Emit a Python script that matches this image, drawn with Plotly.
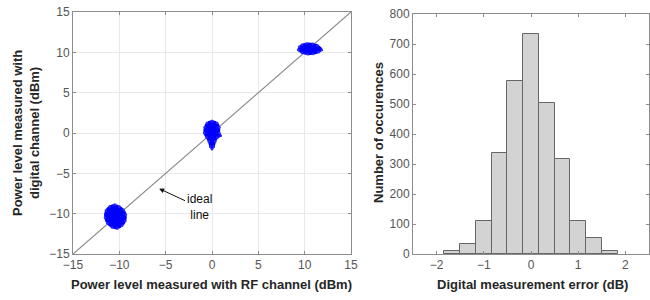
import plotly.graph_objects as go

# ---- data ----
ideal_x = [-15, 15]
ideal_y = [-15, 15]

# outlines of the three measured clusters (dBm)
clusterA_x = [-10.5, -10.0, -9.55, -9.3, -9.35, -9.7, -10.2, -10.8, -11.3, -11.55, -11.45, -11.05, -10.5]
clusterA_y = [-8.9, -9.1, -9.5, -10.1, -10.9, -11.5, -11.85, -11.7, -11.2, -10.5, -9.6, -9.1, -8.9]
clusterB_x = [0.0, 0.55, 0.8, 0.8, 0.95, 0.6, 0.35, 0.2, 0.0, -0.2, -0.35, -0.6, -0.85, -0.8, -0.55, 0.0]
clusterB_y = [1.5, 1.25, 0.7, 0.0, -0.35, -0.6, -1.1, -1.7, -2.0, -1.7, -1.1, -0.55, 0.0, 0.7, 1.25, 1.5]
clusterC_x = [9.4, 9.7, 10.2, 10.9, 11.4, 11.85, 11.5, 10.9, 10.3, 9.7, 9.3, 9.4]
clusterC_y = [10.65, 10.95, 11.1, 11.05, 10.85, 10.3, 10.0, 9.8, 9.75, 9.95, 10.3, 10.65]

# histogram of digital measurement error
bin_centers = [-1.667, -1.333, -1.0, -0.667, -0.333, 0.0, 0.333, 0.667, 1.0, 1.333, 1.667]
counts = [10, 32, 111, 336, 576, 734, 503, 316, 110, 53, 10]
bin_width = 0.333

left_ticks = [-15, -10, -5, 0, 5, 10, 15]
hist_xticks = [-2, -1, 0, 1, 2]
hist_yticks = [0, 100, 200, 300, 400, 500, 600, 700, 800]

FONT = "Liberation Sans, Arial, sans-serif"
TICK_FONT = dict(family=FONT, size=12, color="#555555")
TITLE_FONT = dict(family=FONT, size=13, color="#262626", weight="bold")
AX_LINE = "#8c8c8c"

fig = go.Figure()

fig.add_trace(go.Scatter(x=ideal_x, y=ideal_y, mode="lines",
                         line=dict(color="#8a8a8a", width=1.2),
                         xaxis="x", yaxis="y", showlegend=False, hoverinfo="skip"))

for cx, cy in [(clusterA_x, clusterA_y), (clusterB_x, clusterB_y), (clusterC_x, clusterC_y)]:
    fig.add_trace(go.Scatter(x=cx, y=cy, mode="lines+markers", fill="toself",
                             fillcolor="#0000ff",
                             line=dict(color="#0000ff", width=1.5, shape="spline"),
                             marker=dict(color="#2a2aff", size=2.5),
                             xaxis="x", yaxis="y", showlegend=False))

fig.add_trace(go.Bar(x=bin_centers, y=counts, width=[bin_width] * len(counts),
                     marker=dict(color="#d3d3d3", line=dict(color="#666666", width=1)),
                     xaxis="x2", yaxis="y2", showlegend=False))

common = dict(ticks="inside", ticklen=3, tickcolor=AX_LINE, showline=True,
              linecolor=AX_LINE, linewidth=1, mirror="ticks", zeroline=False,
              tickfont=TICK_FONT, automargin=False)


def px(x):
    return x / 650


def py(y):
    return 1 - y / 300


title_common = dict(xref="paper", yref="paper", showarrow=False, font=TITLE_FONT,
                    xanchor="center", yanchor="middle")

fig.update_layout(
    width=650, height=300,
    margin=dict(l=0, r=0, t=0, b=0, pad=0),
    paper_bgcolor="white", plot_bgcolor="white",
    xaxis=dict(domain=[px(73), px(351)], range=[-15, 15], tickvals=left_ticks,
               showgrid=True, gridcolor="#e8e8e8", anchor="y", **common),
    yaxis=dict(domain=[py(254), py(12)], range=[-15, 15], tickvals=left_ticks,
               showgrid=True, gridcolor="#e8e8e8", anchor="x", **common),
    xaxis2=dict(domain=[px(413), px(649)], range=[-2.5, 2.5], tickvals=hist_xticks,
                showgrid=False, anchor="y2", **common),
    yaxis2=dict(domain=[py(254), py(14)], range=[0, 800], tickvals=hist_yticks,
                showgrid=False, anchor="x2", **common),
    bargap=0,
    annotations=[
        dict(text="Power level measured with RF channel (dBm)", x=px(212), y=py(284),
             **title_common),
        dict(text="Power level measured with<br>digital channel (dBm)", x=px(26), y=py(133),
             textangle=-90, **title_common),
        dict(text="Number of occurences", x=px(378), y=py(133), textangle=-90,
             **title_common),
        dict(text="Digital measurement error (dB)", x=px(532), y=py(284),
             **title_common),
        dict(text="ideal<br>line", x=-5.7, y=-6.9, ax=-1.4, ay=-9.2,
             xref="x", yref="y", axref="x", ayref="y", showarrow=True,
             arrowhead=2, arrowsize=1, arrowwidth=1, arrowcolor="#111111",
             font=dict(family=FONT, size=12, color="#111111")),
    ],
)

fig.write_html("out.html", config={"displayModeBar": False},
               post_script="document.body.style.margin='0px';")
